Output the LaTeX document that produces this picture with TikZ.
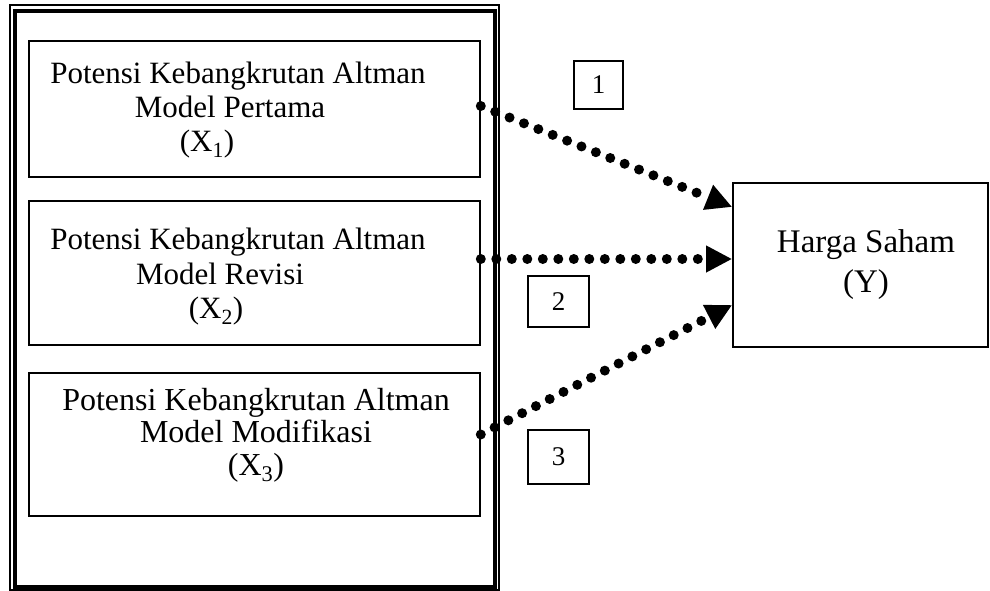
\documentclass[tikz,border=0pt]{standalone}
\usepackage{fontspec}
\setmainfont{Liberation Serif}
\usepackage{tikz}
\usetikzlibrary{arrows.meta}
\tikzset{
  varbox/.style = {draw, line width=1.6pt, minimum width=451pt, inner sep=0pt},
  numbox/.style = {draw, line width=1.6pt, inner sep=0pt, font=\fontsize{27}{30}\selectfont},
  dotarrow/.style = {line width=10pt, line cap=round, dash pattern=on 0pt off 15.5pt,
    -{Triangle[length=26pt,width=25pt]}},
}

\begin{document}
\begin{tikzpicture}[x=1pt,y=-1pt]
\useasboundingbox (0,0) rectangle (990,591);
\draw[line width=1.5pt] (10,5) rectangle (499,590);
\draw[line width=3.5pt] (15,11) rectangle (495,587);
\node[varbox, minimum height=136pt] (x1) at (254.5,109) {};
\node[varbox, minimum height=144pt] (x2) at (254.5,273) {};
\node[varbox, minimum height=143pt] (x3) at (254.5,444.5) {};
\node[draw, line width=1.6pt, minimum width=255pt, minimum height=164pt] (hs) at (860.5,265) {};
\node[align=center, font=\fontsize{31}{34}\selectfont] at (230,110)
  {\hspace*{16pt}Potensi Kebangkrutan Altman\\ Model Pertama\\ (X\textsubscript{1})\hspace*{46pt}};
\node[align=center, font=\fontsize{31}{34.5}\selectfont] at (220,277)
  {\hspace*{36pt}Potensi Kebangkrutan Altman\\ Model Revisi\\ (X\textsubscript{2})\hspace*{8pt}};
\node[align=center, font=\fontsize{32}{32.5}\selectfont] at (256,435)
  {Potensi Kebangkrutan Altman\\ Model Modifikasi\\ (X\textsubscript{3})};
\node[align=center, font=\fontsize{33}{40}\selectfont] at (866,265) {Harga Saham\\ (Y)};
\node[numbox, minimum width=49pt, minimum height=48pt] (n1) at (598.5,85) {1};
\node[numbox, minimum width=61pt, minimum height=51pt] (n2) at (558.5,301.5) {2};
\node[numbox, minimum width=61pt, minimum height=54pt] (n3) at (558.5,457) {3};
\draw[dotarrow] ([yshift=3pt]x1.east) -- ([yshift=58pt]hs.west);
\draw[dotarrow] ([yshift=14pt]x2.east) -- ([yshift=6pt]hs.west);
\draw[dotarrow] ([yshift=10pt]x3.east) -- ([yshift=-40pt]hs.west);
\end{tikzpicture}
\end{document}
